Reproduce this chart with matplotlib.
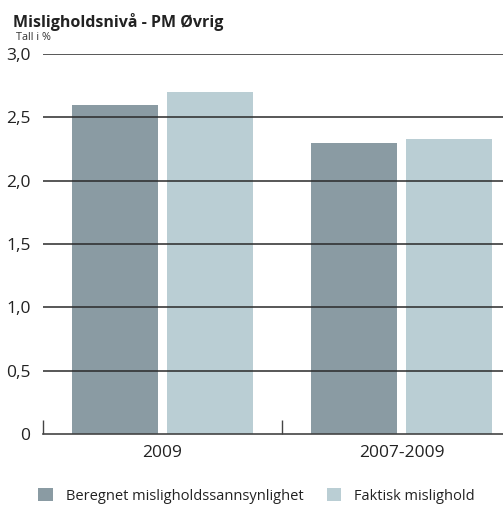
import matplotlib
matplotlib.use("Agg")
import matplotlib.pyplot as plt
import numpy as np

categories = ["2009", "2007-2009"]
beregnet = [2.6, 2.3]
faktisk = [2.7, 2.33]
series_names = ["Beregnet misligholdssannsynlighet", "Faktisk mislighold"]
y_ticks = [0, 0.5, 1.0, 1.5, 2.0, 2.5, 3.0]
y_tick_labels = ["0", "0,5", "1,0", "1,5", "2,0", "2,5", "3,0"]

dark = "#8A9BA3"
light = "#BACED4"
font = "Open Sans"

fig = plt.figure(figsize=(5.03, 5.05), dpi=100)
ax = fig.add_axes([43 / 503, 1 - 434 / 505, 460 / 503, 380 / 505])

centers = np.arange(len(categories)) + 0.5
width = 0.36
ax.bar(centers - 0.2, beregnet, width, color=dark, zorder=1, label=series_names[0])
ax.bar(centers + 0.2, faktisk, width, color=light, zorder=1, label=series_names[1])

for y in y_ticks[1:]:
    ax.axhline(y, color="#2a2a2a", lw=1.1, zorder=3)

ax.set_yticks(y_ticks)
ax.set_yticklabels(y_tick_labels, fontsize=12.5, family=font, color="#222222")
ax.tick_params(axis="y", length=0, pad=9)

ax.set_xticks(centers)
ax.set_xticklabels(categories, fontsize=12.5, family=font, color="#222222")
ax.tick_params(axis="x", which="major", length=0, pad=8)
ax.set_xticks([0, 1, 2], minor=True)
ax.tick_params(axis="x", which="minor", direction="in", length=10, width=1.0, color="#444444")

ax.set_xlim(0, 460 / 239)
ax.set_ylim(0, 3.0)

for s in ["top", "right", "left"]:
    ax.spines[s].set_visible(False)
ax.spines["bottom"].set_color("#444444")
ax.spines["bottom"].set_linewidth(1.2)
ax.spines["bottom"].set_zorder(4)

fig.text(13 / 503, 1 - 22 / 505, "Misligholdsnivå - PM Øvrig", fontsize=11.5,
         fontweight="bold", family=font, color="#222222", va="center", ha="left")
fig.text(16 / 503, 1 - 38 / 505, "Tall i %", fontsize=7.8, family=font,
         color="#333333", va="center", ha="left")

fig.legend(loc="center", bbox_to_anchor=(0.5 + 5 / 503, 1 - 496 / 505), ncol=2, frameon=False,
           prop={"family": font, "size": 10.5}, handlelength=1.0, handleheight=1.0,
           columnspacing=1.6, handletextpad=0.9, labelcolor="#222222")

fig.savefig("out.png", dpi=100)
